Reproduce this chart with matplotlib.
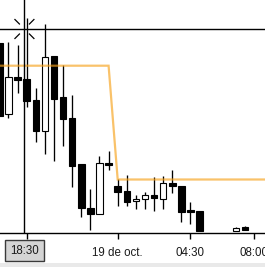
import numpy as np
import matplotlib
matplotlib.use("Agg")
import matplotlib.pyplot as plt
from matplotlib.patches import Rectangle
from matplotlib.lines import Line2D
from matplotlib.transforms import IdentityTransform, blended_transform_factory

plt.rcParams['font.family'] = ['Liberation Sans', 'DejaVu Sans']

# ---- data (candle index along the x axis) ----
nan = np.nan
opens  = [119.00, 111.87, 115.60, 115.40, 113.33, 110.23, 117.70, 113.60, 111.53, 106.90,
          102.50, 101.87, 107.03, 104.70, 104.20, 103.15, 103.35, 103.80, 103.43, 105.03,
          104.70, 102.30, 102.22, nan, nan, nan, 100.22, 100.57]
highs  = [119.00, 119.13, 118.80, 121.47, 114.47, 120.90, 117.70, 116.80, 113.80, 106.90,
          104.37, 107.70, 108.20, 105.40, 105.80, 103.80, 104.05, 105.60, 105.70, 106.30,
          104.70, 103.10, 102.22, nan, nan, nan, 100.58, 100.70]
lows   = [111.70, 111.45, 113.97, 112.63, 109.13, 107.93, 107.23, 108.70, 104.63, 101.63,
          100.30, 101.87, 106.25, 102.70, 102.70, 102.40, 102.40, 102.20, 102.43, 103.95,
          101.13, 100.87, 100.23, nan, nan, nan, 100.22, 100.25]
closes = [111.70, 115.57, 115.33, 113.23, 110.23, 117.60, 113.40, 111.43, 106.73, 102.53,
          101.87, 106.97, 106.75, 104.10, 103.13, 103.40, 103.77, 103.45, 105.02, 104.72,
          102.13, 102.10, 100.23, nan, nan, nan, 100.45, 100.25]
level = [116.73] * 13 + [105.35] * 18          # orange reference line, index 0..30
tick_idx = [3, 13, 21, 28]
tick_labels = ["", "19 de oct.", "04:30", "08:00"]
cross_x, cross_y = 2.75, 120.4                  # crosshair position
cross_label = "18:30"

W, H = 265, 267
fig = plt.figure(figsize=(W / 100, H / 100), dpi=100)
fig.patch.set_facecolor('white')
ax = fig.add_axes([0, 34 / H, 1, 1 - 34 / H])
ax.set_xlim(0.066, 29.19)
ax.set_ylim(100.0, 123.3)
ax.set_facecolor('white')

bw = 0.72
for i, (o, h, l, c) in enumerate(zip(opens, highs, lows, closes)):
    if np.isnan(o):
        continue
    top, bot = max(o, c), min(o, c)
    if h > top:
        ax.plot([i, i], [top, h], color='black', lw=0.95, solid_capstyle='butt', zorder=2)
    if l < bot:
        ax.plot([i, i], [l, bot], color='black', lw=0.95, solid_capstyle='butt', zorder=2)
    fc = 'white' if c > o else 'black'
    ax.add_patch(Rectangle((i - bw / 2, bot), bw, max(top - bot, 0.12),
                           facecolor=fc, edgecolor='black', lw=0.8, zorder=3))

ax.plot(np.arange(len(level)), level, color='#f7a21b', lw=1.6, alpha=0.65, zorder=4,
        solid_joinstyle='miter')

# crosshair
ax.axhline(cross_y, color='black', lw=1.0, zorder=5)
ax.axvline(cross_x, color='black', lw=1.0, zorder=5)

for s in ['top', 'right', 'left']:
    ax.spines[s].set_visible(False)
ax.spines['bottom'].set_linewidth(1.0)
ax.set_yticks([])
ax.set_xticks(tick_idx)
ax.set_xticklabels(tick_labels, fontsize=8.3, color='#1a1a1a')
ax.tick_params(axis='x', length=4, width=1.0, pad=6, color='black')

# crosshair sparkle (pixel offsets)
fig.canvas.draw()
cx, cy = ax.transData.transform((cross_x, cross_y))
for sx in (-1, 1):
    for sy in (-1, 1):
        fig.add_artist(Line2D([cx + sx * 5, cx + sx * 9.5], [cy + sy * 5, cy + sy * 9.5],
                              color='black', lw=0.9, transform=IdentityTransform()))

# crosshair label on axis
tr = blended_transform_factory(ax.transData, fig.transFigure)
ax.text(cross_x, 16.5 / H, cross_label, transform=tr, ha='center', va='center',
        fontsize=8.3, color='#1a1a1a', clip_on=False,
        bbox=dict(boxstyle='square,pad=0.42', facecolor='#d4d4d4', edgecolor='#3a3a3a', lw=1.0))

# grey strip at bottom
fig.add_artist(Rectangle((0, 0), 1, 4 / H, transform=fig.transFigure,
                         facecolor='#e9e9e9', edgecolor='none'))

fig.savefig('out.png', dpi=100)
